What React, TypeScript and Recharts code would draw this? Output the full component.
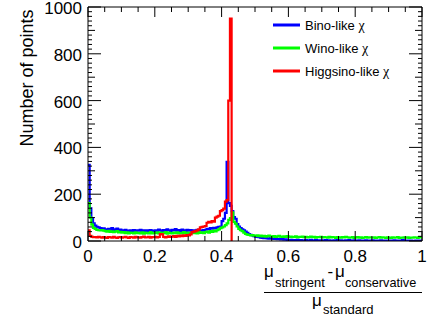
import { LineChart, Line, XAxis, YAxis, Legend, ReferenceLine } from "recharts";

const FONT = "'Liberation Sans', Arial, Helvetica, sans-serif";
const BIN_WIDTH = 0.005;

// counts per bin (bin width 0.005 over [0, 1])
const BINO = [
  325, 140, 98, 75, 66, 60, 58, 55, 52, 54,
  50, 47, 52, 48, 55, 46, 50, 53, 47, 49,
  45, 42, 48, 44, 40, 46, 43, 47, 41, 45,
  44, 48, 42, 46, 40, 45, 43, 47, 44, 42,
  46, 43, 49, 45, 41, 47, 44, 50, 46, 43,
  48, 45, 51, 44, 47, 42, 49, 46, 43, 48,
  44, 47, 41, 45, 43, 48, 42, 46, 44, 47,
  48, 52, 50, 55, 53, 56, 54, 58, 60, 62,
  85, 95, 120, 338, 162, 150, 128, 102, 95, 72,
  62, 55, 50, 45, 40, 35, 30, 26, 24, 21,
  19, 17, 16, 14, 13, 12, 14, 11, 10, 12,
  10, 9, 11, 8, 9, 7, 8, 6, 7, 5,
  4, 5, 3, 4, 2, 5, 3, 4, 2, 3,
  4, 2, 3, 5, 2, 3, 4, 2, 3, 1,
  3, 2, 4, 2, 3, 1, 2, 3, 2, 4,
  2, 3, 1, 2, 3, 2, 4, 2, 1, 3,
  2, 1, 3, 2, 2, 1, 3, 2, 1, 2,
  3, 1, 2, 2, 1, 3, 2, 1, 2, 1,
  2, 1, 2, 3, 1, 2, 1, 2, 5, 2,
  1, 2, 1, 2, 1, 1, 2, 1, 2, 1,
];

const WINO = [
  162, 100, 70, 56, 52, 47, 46, 45, 47, 44,
  42, 40, 43, 39, 41, 38, 40, 42, 37, 39,
  36, 38, 34, 37, 33, 36, 35, 32, 37, 34,
  35, 33, 37, 31, 36, 34, 32, 38, 33, 35,
  34, 37, 32, 36, 33, 35, 38, 31, 36, 34,
  33, 36, 34, 37, 32, 35, 33, 38, 34, 36,
  35, 32, 37, 34, 36, 33, 38, 35, 37, 34,
  38, 40, 36, 42, 39, 44, 41, 46, 50, 55,
  58, 62, 68, 75, 90, 98, 122, 82, 74, 62,
  52, 46, 42, 36, 30, 27, 26, 24, 25, 23,
  22, 24, 21, 23, 20, 22, 19, 21, 23, 20,
  19, 21, 18, 20, 22, 19, 17, 20, 18, 21,
  17, 19, 16, 18, 20, 15, 18, 17, 19, 16,
  18, 15, 17, 19, 16, 18, 14, 17, 16, 18,
  15, 17, 16, 14, 18, 15, 17, 16, 13, 17,
  16, 14, 17, 15, 18, 16, 14, 15, 17, 13,
  15, 17, 14, 16, 13, 15, 17, 14, 16, 15,
  14, 16, 13, 15, 17, 14, 16, 15, 13, 16,
  15, 13, 16, 14, 15, 17, 13, 15, 14, 16,
  14, 16, 13, 15, 14, 16, 15, 13, 17, 15,
];

// nothing above 0.435
const HIGGSINO = [
  45, 22, 18, 16, 17, 15, 18, 16, 14, 17,
  15, 13, 17, 16, 14, 18, 15, 13, 16, 17,
  14, 16, 18, 15, 13, 17, 16, 14, 18, 15,
  16, 14, 17, 19, 15, 16, 18, 14, 17, 16,
  18, 15, 17, 30, 28, 17, 15, 18, 20, 17,
  19, 21, 18, 22, 20, 23, 21, 24, 22, 25,
  24, 28, 38, 40, 42, 45, 50, 58, 60, 62,
  64, 78, 82, 80, 85, 83, 100, 104, 108, 128,
  132, 138, 168, 175, 600, 950, 0,
];

const SERIES = [
  { key: "bino", name: "Bino-like", color: "#0000ff" },
  { key: "wino", name: "Wino-like", color: "#00ff00" },
  { key: "higgsino", name: "Higgsino-like", color: "#ff0000" },
];

const X_LABELS = [0, 0.2, 0.4, 0.6, 0.8, 1];
const X_TICKS = [0, 0.05, 0.1, 0.15, 0.2, 0.25, 0.3, 0.35, 0.4, 0.45, 0.5, 0.55, 0.6, 0.65, 0.7, 0.75, 0.8, 0.85, 0.9, 0.95, 1];
const Y_LABELS = [0, 200, 400, 600, 800, 1000];
const Y_TICKS = Array.from({ length: 51 }, (_, i) => i * 20);

// frame (plot area) edges in px
const PLOT_LEFT = 88;
const PLOT_RIGHT = 422;
const PLOT_TOP = 7;
const PLOT_BOTTOM = 241;

const rows: Record<string, number | undefined>[] = BINO.map((_, i) => ({
  x: +(i * BIN_WIDTH).toFixed(3),
  bino: BINO[i],
  wino: WINO[i],
  higgsino: HIGGSINO[i],
}));
rows.push({ x: 1, bino: BINO[BINO.length - 1], wino: WINO[WINO.length - 1] });

// ROOT-style ticks: inward, on both sides of the frame
function XTick(props: any) {
  const { x, payload } = props;
  const v = payload.value;
  const major = X_LABELS.some((l) => Math.abs(l - v) < 1e-9);
  const len = major ? 10 : 5;
  return (
    <g>
      <line x1={x} x2={x} y1={PLOT_BOTTOM} y2={PLOT_BOTTOM - len} stroke="#000" />
      <line x1={x} x2={x} y1={PLOT_TOP} y2={PLOT_TOP + len} stroke="#000" />
      {major && (
        <text x={x} y={262} textAnchor="middle" fontSize={17} fontFamily={FONT} fill="#000">
          {String(v)}
        </text>
      )}
    </g>
  );
}

function YTick(props: any) {
  const { y, payload } = props;
  const v = payload.value;
  const len = v % 200 === 0 ? 13 : v % 100 === 0 ? 7 : 4;
  return (
    <g>
      <line x1={PLOT_LEFT} x2={PLOT_LEFT + len} y1={y} y2={y} stroke="#000" />
      <line x1={PLOT_RIGHT} x2={PLOT_RIGHT - len} y1={y} y2={y} stroke="#000" />
      {Y_LABELS.includes(v) && (
        <text x={82} y={y + 7} textAnchor="end" fontSize={17} fontFamily={FONT} fill="#000">
          {String(v)}
        </text>
      )}
    </g>
  );
}

function YTitle() {
  return (
    <text x={33} y={78} transform="rotate(-90 33 78)" textAnchor="middle" fontSize={18} fontFamily={FONT} fill="#000">
      Number of points
    </text>
  );
}

function XTitle() {
  return (
    <g fontFamily={FONT} fill="#000">
      <text x={264} y={277} fontSize={17}>μ</text>
      <text x={275} y={287} fontSize={13}>stringent</text>
      <text x={327.5} y={277} fontSize={17}>-</text>
      <text x={335} y={277} fontSize={17}>μ</text>
      <text x={345} y={287} fontSize={12.7}>conservative</text>
      <line x1={264} x2={422} y1={292.5} y2={292.5} stroke="#000" strokeWidth={1} />
      <text x={312} y={306} fontSize={17}>μ</text>
      <text x={323} y={314} fontSize={13}>standard</text>
    </g>
  );
}

function LegendBox() {
  return (
    <svg width={150} height={75} style={{ display: "block" }}>
      {SERIES.map((s, i) => (
        <g key={s.key}>
          <line x1={5} x2={32} y1={11 + i * 23} y2={11 + i * 23} stroke={s.color} strokeWidth={3} />
          <text x={37} y={16 + i * 23} fontSize={13} fontFamily={FONT} fill="#000">
            {s.name} <tspan fontFamily="'Liberation Serif', serif" fontSize={14}>χ</tspan>
          </text>
        </g>
      ))}
    </svg>
  );
}

export default function App() {
  return (
    <div style={{ position: "absolute", left: 0, top: 0, width: 427, height: 325, background: "#fff" }}>
      <LineChart width={427} height={325} data={rows} margin={{ top: PLOT_TOP, right: 427 - PLOT_RIGHT, bottom: 0, left: 0 }}>
        <XAxis
          type="number"
          dataKey="x"
          domain={[0, 1]}
          ticks={X_TICKS}
          interval={0}
          allowDataOverflow
          height={325 - PLOT_BOTTOM}
          tickLine={false}
          axisLine={{ stroke: "#000" }}
          tick={<XTick />}
          label={<XTitle />}
        />
        <YAxis
          type="number"
          domain={[0, 1000]}
          ticks={Y_TICKS}
          interval={0}
          allowDataOverflow
          width={PLOT_LEFT}
          tickLine={false}
          axisLine={{ stroke: "#000" }}
          tick={<YTick />}
          label={<YTitle />}
        />
        <ReferenceLine y={1000} stroke="#000" ifOverflow="visible" />
        <ReferenceLine x={1} stroke="#000" ifOverflow="visible" />

        {SERIES.map((s) => (
          <Line
            key={s.key}
            type="stepAfter"
            dataKey={s.key}
            name={s.name}
            stroke={s.color}
            strokeWidth={2.2}
            dot={false}
            activeDot={false}
            isAnimationActive={false}
          />
        ))}

        <Legend
          layout="vertical"
          align="center"
          verticalAlign="middle"
          content={<LegendBox />}
          wrapperStyle={{ left: 268, top: 14, width: 150, height: 75 }}
        />
      </LineChart>
    </div>
  );
}
